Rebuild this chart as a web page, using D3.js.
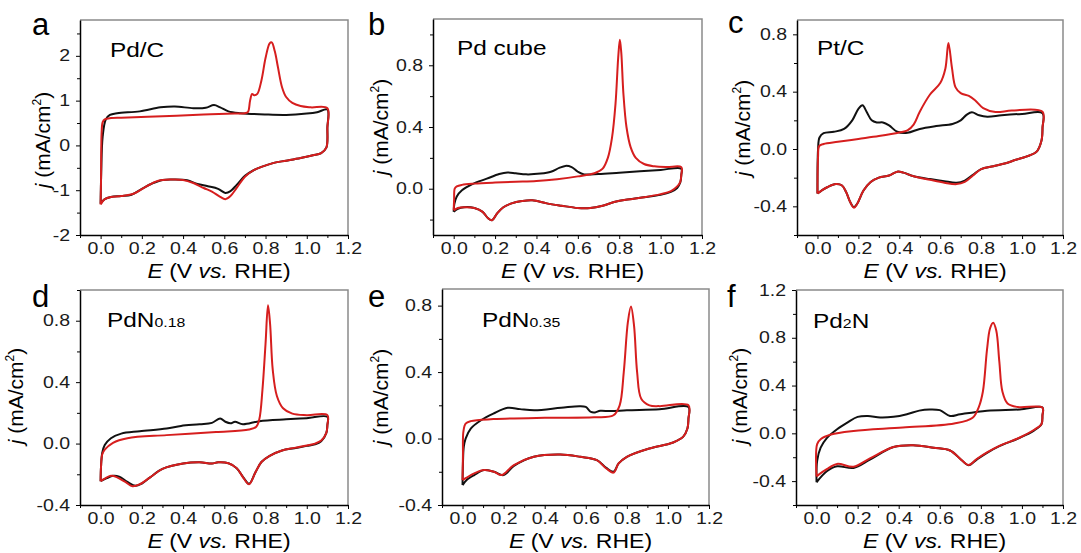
<!DOCTYPE html>
<html>
<head>
<meta charset="utf-8">
<script src="https://cdn.jsdelivr.net/npm/d3@7"></script>
<style>
body{margin:0;background:#fff;}
svg{display:block;font-family:Arial,"Liberation Sans",sans-serif;}
</style>
</head>
<body>
<script>
// x axis (E vs RHE), shared by all panels
var xTicks = [0, 0.2, 0.4, 0.6, 0.8, 1.0, 1.2];
var xMinor = [-0.1, 0.1, 0.3, 0.5, 0.7, 0.9, 1.1];

// CV loops, [E, j] : anodic sweep 0 -> 1.1 then cathodic back to 0
var pdcBlack = [[0,-1.3],[0.003,-0.6],[0.01,0.2],[0.025,0.58],[0.045,0.68],[0.08,0.72],[0.19,0.76],[0.29,0.85],[0.36,0.87],[0.45,0.83],[0.51,0.84],[0.55,0.9],[0.58,0.85],[0.62,0.76],[0.68,0.72],[0.8,0.69],[0.9,0.68],[1.0,0.71],[1.05,0.74],[1.1,0.8],
  [1.1,0.4],[1.095,-0.05],[1.07,-0.17],[1.03,-0.22],[0.97,-0.28],[0.9,-0.34],[0.84,-0.39],[0.78,-0.48],[0.74,-0.56],[0.7,-0.68],[0.66,-0.88],[0.63,-1.02],[0.605,-1.06],[0.57,-0.97],[0.52,-0.91],[0.47,-0.86],[0.42,-0.78],[0.36,-0.76],[0.3,-0.77],[0.25,-0.85],[0.2,-0.97],[0.15,-1.1],[0.1,-1.13],[0.05,-1.15],[0.02,-1.2],[0,-1.3]];
var pdcRed = [[0,-1.32],[0.002,-0.8],[0.005,0.3],[0.01,0.52],[0.02,0.58],[0.05,0.61],[0.1,0.62],[0.3,0.65],[0.5,0.69],[0.65,0.71],[0.7,0.72],[0.715,0.75],[0.725,1.0],[0.735,1.15],[0.745,1.12],[0.76,1.15],[0.78,1.45],[0.8,1.95],[0.82,2.28],[0.83,2.3],[0.845,2.1],[0.86,1.75],[0.88,1.3],[0.9,1.08],[0.93,0.95],[0.97,0.88],[1.02,0.85],[1.1,0.83],
  [1.1,0.4],[1.095,-0.05],[1.07,-0.17],[1.03,-0.22],[0.97,-0.28],[0.9,-0.34],[0.84,-0.39],[0.78,-0.48],[0.74,-0.56],[0.7,-0.7],[0.66,-0.95],[0.63,-1.13],[0.605,-1.2],[0.58,-1.15],[0.54,-1.03],[0.5,-0.95],[0.45,-0.84],[0.4,-0.77],[0.34,-0.76],[0.28,-0.79],[0.22,-0.92],[0.16,-1.08],[0.1,-1.13],[0.05,-1.15],[0.02,-1.2],[0,-1.32]];

var cubeBlack = [[0,-0.15],[0.003,-0.1],[0.015,-0.05],[0.04,-0.01],[0.09,0.03],[0.16,0.065],[0.22,0.095],[0.26,0.105],[0.3,0.1],[0.35,0.093],[0.42,0.098],[0.47,0.11],[0.51,0.135],[0.54,0.148],[0.57,0.14],[0.6,0.11],[0.63,0.093],[0.7,0.095],[0.8,0.104],[0.9,0.113],[1.0,0.122],[1.1,0.13],
  [1.1,0.09],[1.095,0.04],[1.08,0.005],[1.05,-0.02],[1.0,-0.04],[0.92,-0.055],[0.84,-0.07],[0.78,-0.085],[0.72,-0.11],[0.66,-0.125],[0.6,-0.125],[0.52,-0.11],[0.45,-0.095],[0.38,-0.075],[0.33,-0.08],[0.28,-0.095],[0.24,-0.12],[0.21,-0.16],[0.185,-0.205],[0.165,-0.19],[0.14,-0.15],[0.1,-0.125],[0.05,-0.12],[0.02,-0.13],[0,-0.15]];
var cubeRed = [[0,-0.14],[0.002,-0.07],[0.005,0.0],[0.015,0.015],[0.04,0.025],[0.1,0.033],[0.2,0.04],[0.3,0.045],[0.4,0.05],[0.5,0.062],[0.6,0.08],[0.68,0.1],[0.72,0.13],[0.745,0.2],[0.765,0.33],[0.782,0.55],[0.795,0.85],[0.803,0.965],[0.81,0.88],[0.82,0.62],[0.835,0.4],[0.855,0.27],[0.88,0.2],[0.92,0.16],[0.97,0.145],[1.03,0.14],[1.1,0.14],
  [1.1,0.09],[1.095,0.045],[1.08,0.015],[1.05,-0.015],[1.0,-0.035],[0.92,-0.055],[0.84,-0.07],[0.78,-0.085],[0.72,-0.11],[0.66,-0.125],[0.6,-0.125],[0.52,-0.11],[0.45,-0.095],[0.38,-0.075],[0.33,-0.08],[0.28,-0.095],[0.24,-0.12],[0.21,-0.16],[0.185,-0.205],[0.165,-0.19],[0.14,-0.15],[0.1,-0.125],[0.05,-0.12],[0.02,-0.125],[0,-0.14]];

var ptcBlack = [[0,-0.31],[0.003,0.0],[0.01,0.08],[0.03,0.11],[0.08,0.12],[0.13,0.14],[0.17,0.2],[0.2,0.28],[0.22,0.305],[0.24,0.26],[0.265,0.2],[0.29,0.185],[0.32,0.185],[0.35,0.165],[0.39,0.12],[0.44,0.113],[0.5,0.14],[0.58,0.16],[0.66,0.175],[0.7,0.2],[0.73,0.24],[0.755,0.256],[0.79,0.235],[0.83,0.225],[0.9,0.235],[1.0,0.245],[1.1,0.25],
  [1.1,0.15],[1.095,0.06],[1.07,-0.02],[1.02,-0.053],[0.97,-0.075],[0.92,-0.1],[0.86,-0.12],[0.8,-0.14],[0.76,-0.18],[0.72,-0.22],[0.68,-0.235],[0.62,-0.225],[0.55,-0.21],[0.47,-0.19],[0.42,-0.165],[0.39,-0.158],[0.35,-0.185],[0.3,-0.2],[0.26,-0.23],[0.225,-0.29],[0.195,-0.38],[0.178,-0.405],[0.16,-0.37],[0.14,-0.3],[0.12,-0.255],[0.09,-0.245],[0.05,-0.265],[0.02,-0.29],[0,-0.31]];
var ptcRed = [[0,-0.31],[0.003,-0.05],[0.008,0.02],[0.03,0.035],[0.1,0.05],[0.2,0.07],[0.3,0.09],[0.4,0.115],[0.44,0.13],[0.47,0.17],[0.5,0.26],[0.55,0.38],[0.6,0.46],[0.625,0.56],[0.64,0.74],[0.657,0.57],[0.675,0.43],[0.7,0.39],[0.74,0.37],[0.77,0.34],[0.81,0.285],[0.87,0.258],[0.95,0.268],[1.1,0.26],
  [1.1,0.15],[1.095,0.06],[1.07,-0.02],[1.02,-0.053],[0.97,-0.075],[0.92,-0.1],[0.86,-0.12],[0.8,-0.14],[0.76,-0.185],[0.72,-0.23],[0.68,-0.245],[0.62,-0.235],[0.55,-0.215],[0.47,-0.19],[0.42,-0.165],[0.39,-0.158],[0.35,-0.185],[0.3,-0.2],[0.26,-0.23],[0.225,-0.29],[0.195,-0.38],[0.178,-0.41],[0.16,-0.37],[0.14,-0.3],[0.12,-0.255],[0.09,-0.245],[0.05,-0.265],[0.02,-0.29],[0,-0.31]];

var n018Black = [[0,-0.245],[0.002,-0.15],[0.008,-0.06],[0.02,-0.01],[0.05,0.035],[0.1,0.065],[0.19,0.08],[0.32,0.098],[0.39,0.115],[0.48,0.126],[0.54,0.135],[0.58,0.163],[0.605,0.142],[0.63,0.132],[0.652,0.142],[0.69,0.126],[0.77,0.146],[0.9,0.158],[1.0,0.165],[1.1,0.174],
  [1.1,0.12],[1.095,0.07],[1.07,0.015],[1.04,-0.005],[1.0,-0.015],[0.94,-0.03],[0.88,-0.045],[0.82,-0.08],[0.78,-0.12],[0.75,-0.19],[0.72,-0.262],[0.695,-0.225],[0.66,-0.16],[0.62,-0.128],[0.57,-0.122],[0.54,-0.13],[0.48,-0.122],[0.4,-0.13],[0.3,-0.165],[0.24,-0.22],[0.2,-0.26],[0.17,-0.275],[0.13,-0.25],[0.09,-0.215],[0.06,-0.21],[0.03,-0.225],[0,-0.245]];
var n018Red = [[0,-0.245],[0.002,-0.15],[0.008,-0.07],[0.02,-0.04],[0.06,0.005],[0.13,0.035],[0.32,0.055],[0.56,0.075],[0.72,0.092],[0.755,0.11],[0.77,0.16],[0.785,0.35],[0.8,0.65],[0.812,0.9],[0.822,0.78],[0.835,0.48],[0.855,0.31],[0.885,0.23],[0.93,0.195],[1.0,0.185],[1.1,0.185],
  [1.1,0.12],[1.095,0.07],[1.07,0.02],[1.04,0.0],[1.0,-0.012],[0.94,-0.028],[0.88,-0.045],[0.82,-0.08],[0.78,-0.12],[0.75,-0.19],[0.72,-0.265],[0.695,-0.228],[0.66,-0.16],[0.62,-0.128],[0.57,-0.122],[0.54,-0.13],[0.48,-0.122],[0.4,-0.13],[0.3,-0.165],[0.24,-0.22],[0.19,-0.265],[0.155,-0.278],[0.12,-0.25],[0.08,-0.22],[0.05,-0.21],[0.02,-0.228],[0,-0.245]];

var n035Black = [[0,-0.28],[0.002,-0.15],[0.006,-0.05],[0.015,0.0],[0.04,0.06],[0.09,0.11],[0.15,0.15],[0.22,0.185],[0.28,0.177],[0.35,0.17],[0.48,0.185],[0.57,0.195],[0.6,0.19],[0.625,0.16],[0.645,0.157],[0.67,0.167],[0.72,0.165],[0.8,0.17],[0.96,0.177],[1.1,0.19],
  [1.1,0.12],[1.095,0.06],[1.074,0.01],[1.04,-0.015],[1.01,-0.03],[0.91,-0.06],[0.8,-0.11],[0.76,-0.15],[0.735,-0.2],[0.7,-0.177],[0.654,-0.13],[0.573,-0.11],[0.476,-0.096],[0.347,-0.11],[0.25,-0.165],[0.2,-0.22],[0.153,-0.2],[0.105,-0.19],[0.057,-0.22],[0.02,-0.25],[0,-0.28]];
var n035Red = [[0,-0.25],[0.002,-0.1],[0.004,0.04],[0.015,0.09],[0.04,0.105],[0.15,0.117],[0.4,0.125],[0.64,0.128],[0.735,0.14],[0.765,0.2],[0.785,0.4],[0.805,0.7],[0.82,0.794],[0.835,0.68],[0.85,0.4],[0.87,0.24],[0.91,0.2],[0.96,0.195],[1.1,0.2],
  [1.1,0.12],[1.095,0.06],[1.074,0.01],[1.04,-0.015],[1.01,-0.03],[0.91,-0.06],[0.8,-0.11],[0.76,-0.15],[0.735,-0.205],[0.7,-0.18],[0.654,-0.13],[0.573,-0.11],[0.476,-0.096],[0.347,-0.11],[0.25,-0.16],[0.19,-0.22],[0.153,-0.2],[0.105,-0.19],[0.057,-0.21],[0.02,-0.235],[0,-0.25]];

var pd2nBlack = [[0,-0.41],[0.003,-0.23],[0.02,-0.12],[0.05,-0.04],[0.1,0.034],[0.15,0.09],[0.2,0.138],[0.25,0.146],[0.31,0.132],[0.375,0.138],[0.44,0.16],[0.5,0.19],[0.55,0.2],[0.6,0.194],[0.65,0.146],[0.7,0.16],[0.83,0.19],[0.99,0.2],[1.1,0.217],
  [1.1,0.15],[1.095,0.076],[1.06,0.025],[0.99,-0.037],[0.89,-0.107],[0.83,-0.163],[0.78,-0.22],[0.74,-0.268],[0.707,-0.225],[0.65,-0.144],[0.57,-0.121],[0.47,-0.1],[0.375,-0.115],[0.26,-0.22],[0.18,-0.29],[0.1,-0.276],[0.05,-0.318],[0,-0.41]];
var pd2nRed = [[0,-0.36],[0.003,-0.09],[0.02,-0.05],[0.07,-0.01],[0.18,0.02],[0.42,0.048],[0.67,0.082],[0.76,0.13],[0.79,0.22],[0.81,0.35],[0.83,0.7],[0.845,0.88],[0.86,0.925],[0.875,0.86],[0.89,0.6],[0.905,0.35],[0.93,0.25],[0.98,0.22],[1.1,0.215],
  [1.1,0.15],[1.095,0.076],[1.06,0.03],[0.99,-0.035],[0.89,-0.105],[0.83,-0.16],[0.78,-0.215],[0.74,-0.265],[0.707,-0.225],[0.65,-0.144],[0.57,-0.121],[0.47,-0.1],[0.375,-0.115],[0.26,-0.21],[0.18,-0.28],[0.1,-0.256],[0.05,-0.3],[0,-0.36]];

// y axes
var pdcYTicks = [-2, -1, 0, 1, 2],        pdcYMinor = [-1.5, -0.5, 0.5, 1.5, 2.5];
var cubeYTicks = [0, 0.4, 0.8],           cubeYMinor = [-0.2, 0.2, 0.6, 1.0];
var ptcYTicks = [-0.4, 0, 0.4, 0.8],      ptcYMinor = [-0.6, -0.2, 0.2, 0.6];
var n018YTicks = [-0.4, 0, 0.4, 0.8],     n018YMinor = [-0.2, 0.2, 0.6, 1.0];
var n035YTicks = [-0.4, 0, 0.4, 0.8],     n035YMinor = [-0.2, 0.2, 0.6];
var pd2nYTicks = [-0.4, 0, 0.4, 0.8, 1.2], pd2nYMinor = [-0.6, -0.2, 0.2, 0.6, 1.0];

var panels = [
  {letter:"a", name:"Pd/C",    sub:null,   black:pdcBlack,  red:pdcRed,  yDomain:[-2, 2.8],   yTicks:pdcYTicks,  yMinor:pdcYMinor,  dec:0},
  {letter:"b", name:"Pd cube", sub:null,   black:cubeBlack, red:cubeRed, yDomain:[-0.3, 1.1], yTicks:cubeYTicks, yMinor:cubeYMinor, dec:1},
  {letter:"c", name:"Pt/C",    sub:null,   black:ptcBlack,  red:ptcRed,  yDomain:[-0.6, 0.9], yTicks:ptcYTicks,  yMinor:ptcYMinor,  dec:1},
  {letter:"d", name:"PdN",     sub:"0.18", black:n018Black, red:n018Red, yDomain:[-0.4, 1.0], yTicks:n018YTicks, yMinor:n018YMinor, dec:1},
  {letter:"e", name:"PdN",     sub:"0.35", black:n035Black, red:n035Red, yDomain:[-0.4, 0.9], yTicks:n035YTicks, yMinor:n035YMinor, dec:1},
  {letter:"f", name:"Pd",      sub:"2",    black:pd2nBlack, red:pd2nRed, yDomain:[-0.6, 1.2], yTicks:pd2nYTicks, yMinor:pd2nYMinor, dec:1, tail:"N"}
];

// frame boxes [left, top, right, bottom] and text anchors
var layout = [
  {box:[80, 20, 348, 235],   letter:[32, 35],   legend:[110, 57],  ylab:[50, 140]},
  {box:[433, 19, 702, 235],  letter:[368, 35],  legend:[457, 55],  ylab:[388, 127]},
  {box:[797, 20, 1063, 235], letter:[728, 33],  legend:[817, 55],  ylab:[750, 128]},
  {box:[80, 290, 348, 505],  letter:[32, 307],  legend:[107, 327], ylab:[23, 396]},
  {box:[442, 289, 709, 505], letter:[368, 307], legend:[482, 327], ylab:[388, 397]},
  {box:[796, 290, 1063, 505],letter:[727, 307], legend:[813, 328], ylab:[747, 396]}
];

var SX = 1.22;   // horizontal stretch of the original lettering

var svg = d3.select("body").append("svg")
    .attr("width", 1081)
    .attr("height", 553);

function drawPanel(p, L){
    var left = L.box[0], top = L.box[1], right = L.box[2], bottom = L.box[3];
    var x = d3.scaleLinear().domain([-0.1, 1.2]).range([left, right]);
    var y = d3.scaleLinear().domain(p.yDomain).range([bottom, top]);
    var g = svg.append("g");

    // grey top/right edges of the frame
    g.append("path")
        .attr("d", "M" + left + "," + top + "H" + right + "V" + bottom)
        .attr("fill", "none")
        .attr("stroke", "#8a8a8a")
        .attr("stroke-width", 1.5);

    // x axis
    var xa = g.append("g").attr("transform", "translate(0," + bottom + ")")
        .call(d3.axisBottom(x).tickValues(xTicks).tickSize(4).tickSizeOuter(0).tickPadding(4)
            .tickFormat(function(d){ return d.toFixed(1); }));
    g.append("g").attr("transform", "translate(0," + bottom + ")")
        .call(d3.axisBottom(x).tickValues(xMinor).tickSize(3).tickFormat(""))
        .select(".domain").remove();
    xa.selectAll("text").attr("font-size", 16).attr("font-family", null).attr("fill", "#1a1a1a")
        .attr("transform", "scale(" + SX + ",1)");

    // y axis
    var ya = g.append("g").attr("transform", "translate(" + left + ",0)")
        .call(d3.axisLeft(y).tickValues(p.yTicks).tickSize(4).tickSizeOuter(0).tickPadding(6)
            .tickFormat(function(d){ return d.toFixed(p.dec); }));
    g.append("g").attr("transform", "translate(" + left + ",0)")
        .call(d3.axisLeft(y).tickValues(p.yMinor).tickSize(3).tickFormat(""))
        .select(".domain").remove();
    ya.selectAll("text").attr("font-size", 16).attr("font-family", null).attr("fill", "#1a1a1a")
        .attr("x", -10 / SX)
        .attr("transform", "scale(" + SX + ",1)");

    g.selectAll(".domain").attr("stroke", "#000").attr("stroke-width", 1.5);
    g.selectAll(".tick line").attr("stroke", "#000").attr("stroke-width", 1);

    // curves
    var line = d3.line()
        .x(function(d){ return x(d[0]); })
        .y(function(d){ return y(d[1]); })
        .curve(d3.curveCatmullRom.alpha(0.5));
    g.append("path").datum(p.black)
        .attr("d", line).attr("fill", "none")
        .attr("stroke", "#111").attr("stroke-width", 2).attr("stroke-linejoin", "round");
    g.append("path").datum(p.red)
        .attr("d", line).attr("fill", "none")
        .attr("stroke", "#d61e1e").attr("stroke-width", 2).attr("stroke-linejoin", "round");

    // panel letter
    svg.append("text")
        .attr("x", L.letter[0]).attr("y", L.letter[1])
        .attr("font-size", 31).attr("fill", "#000")
        .text(p.letter);

    // sample name
    var t = svg.append("text")
        .attr("transform", "translate(" + L.legend[0] + "," + L.legend[1] + ") scale(1.22,1)")
        .attr("font-size", 20).attr("fill", "#000");
    t.append("tspan").text(p.name);
    if(p.sub){
        t.append("tspan").attr("font-size", 13).text(p.sub);
    }
    if(p.tail){
        t.append("tspan").text(p.tail);
    }

    // x title
    var xt = svg.append("text")
        .attr("transform", "translate(" + ((left + right) / 2 + 5) + "," + (bottom + 43) + ") scale(1.15,1)")
        .attr("text-anchor", "middle")
        .attr("font-size", 20).attr("fill", "#000");
    xt.append("tspan").attr("font-style", "italic").text("E");
    xt.append("tspan").text(" (V ");
    xt.append("tspan").attr("font-style", "italic").text("vs.");
    xt.append("tspan").text(" RHE)");

    // y title
    var yt = svg.append("text")
        .attr("transform", "translate(" + L.ylab[0] + "," + L.ylab[1] + ") rotate(-90)")
        .attr("text-anchor", "middle")
        .attr("font-size", 21).attr("fill", "#000");
    yt.append("tspan").attr("font-style", "italic").text("j");
    yt.append("tspan").text(" (mA/cm");
    yt.append("tspan").attr("font-size", 12).attr("dy", -9).text("2");
    yt.append("tspan").attr("dy", 9).text(")");
}

for(var i = 0; i < panels.length; i++){
    drawPanel(panels[i], layout[i]);
}
</script>
</body>
</html>
